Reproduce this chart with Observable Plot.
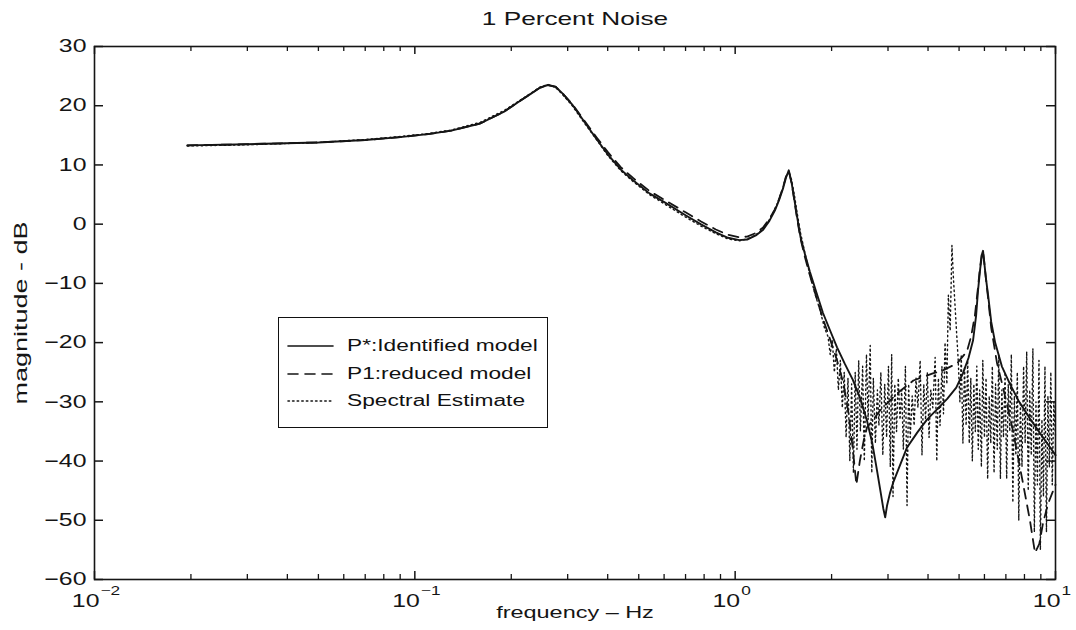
<!DOCTYPE html>
<html>
<head>
<meta charset="utf-8">
<script src="https://cdn.jsdelivr.net/npm/d3@7"></script>
<script src="https://cdn.jsdelivr.net/npm/@observablehq/plot@0.6"></script>
<style>
  body { margin: 0; background: #fff; }
  #wrap { position: relative; width: 1076px; height: 630px; font-family: "Liberation Sans", Arial, sans-serif; color: #111; }
  #legend { position: absolute; left: 278px; top: 317px; width: 270px; height: 111px; border: 1.5px solid #111; background: #fff; box-sizing: border-box; }
  .row { position: absolute; left: 0; height: 22px; width: 100%; }
  .row svg { position: absolute; left: 8px; top: 0; }
  .row span { position: absolute; left: 68px; top: 1px; font-size: 16px; line-height: 20px; transform: scaleX(1.42); transform-origin: left center; white-space: nowrap; }
</style>
</head>
<body>
<div id="wrap">
  <div id="chart"></div>
  <div id="legend"></div>
</div>
<script>
// ---- data (frequency in Hz, magnitude in dB) ----
const identified = [
  [0.0195,13.3],[0.03,13.5],[0.05,13.8],[0.07,14.2],[0.09,14.7],[0.11,15.2],[0.13,15.8],[0.16,17.0],
  [0.19,19.0],[0.21,20.6],[0.23,22.0],[0.245,23.0],[0.26,23.5],[0.275,23.2],[0.29,22.0],[0.31,20.2],
  [0.336,17.5],[0.37,14.3],[0.40,11.8],[0.44,9.2],[0.48,7.4],[0.54,5.2],[0.61,3.5],[0.70,1.5],
  [0.78,0.0],[0.87,-1.4],[0.95,-2.3],[1.03,-2.7],[1.09,-2.6],[1.16,-1.9],[1.22,-1.0],[1.28,0.6],
  [1.33,2.3],[1.37,4.0],[1.41,6.0],[1.44,7.8],[1.47,9.1],[1.50,7.0],[1.53,4.2],[1.56,1.3],
  [1.60,-2.2],[1.65,-5.0],[1.71,-8.0],[1.78,-11.0],[1.88,-15.0],[1.98,-18.0],[2.08,-20.8],[2.2,-23.6],
  [2.33,-26.3],[2.46,-29.5],[2.58,-33.2],[2.68,-37.0],[2.77,-41.5],[2.85,-45.5],[2.90,-48.0],[2.94,-49.5],
  [2.98,-47.5],[3.04,-45.5],[3.12,-43.5],[3.20,-42.0],[3.44,-37.7],[3.70,-35.2],[3.97,-33.0],[4.28,-31.2],
  [4.59,-29.5],[4.90,-27.6],[5.14,-25.2],[5.35,-22.6],[5.53,-19.6],[5.65,-15.5],[5.73,-11.2],[5.82,-7.5],
  [5.90,-5.0],[5.94,-4.5],[5.98,-6.0],[6.06,-9.0],[6.16,-12.0],[6.30,-16.5],[6.48,-20.0],[6.8,-24.0],
  [7.21,-27.0],[7.7,-30.0],[8.32,-32.8],[9.0,-35.5],[9.5,-37.3],[10.0,-39.0]
];
const reduced = [
  [0.0195,13.3],[0.03,13.5],[0.05,13.8],[0.07,14.2],[0.09,14.7],[0.11,15.2],[0.13,15.8],[0.16,17.0],
  [0.19,19.0],[0.21,20.6],[0.23,22.0],[0.245,23.0],[0.26,23.5],[0.275,23.2],[0.29,22.0],[0.31,20.3],
  [0.336,17.7],[0.37,14.6],[0.40,12.2],[0.44,9.6],[0.48,7.8],[0.54,5.6],[0.61,3.9],[0.70,2.0],
  [0.78,0.5],[0.87,-0.9],[0.95,-1.8],[1.03,-2.2],[1.09,-2.1],[1.16,-1.5],[1.22,-0.6],[1.28,0.9],
  [1.33,2.5],[1.37,4.2],[1.41,6.2],[1.44,8.0],[1.47,9.0],[1.50,7.0],[1.53,4.0],[1.56,1.0],
  [1.60,-2.5],[1.65,-5.5],[1.71,-8.6],[1.78,-11.8],[1.88,-16.0],[1.98,-19.5],[2.08,-23.0],[2.18,-27.0],
  [2.26,-32.0],[2.33,-38.0],[2.39,-44.0],[2.45,-40.0],[2.52,-36.5],[2.58,-34.3],[2.70,-33.0],[2.83,-31.5],
  [3.20,-28.6],[3.60,-26.4],[4.14,-25.2],[4.45,-24.7],[4.93,-23.5],[5.29,-21.5],[5.45,-19.0],[5.60,-15.5],
  [5.70,-11.8],[5.80,-7.8],[5.88,-5.2],[5.94,-4.6],[5.98,-6.0],[6.06,-9.0],[6.16,-12.5],[6.30,-17.5],
  [6.57,-23.5],[6.86,-27.6],[7.36,-34.8],[7.92,-43.8],[8.32,-50.0],[8.63,-55.5],[8.90,-54.0],[9.14,-50.5],
  [9.48,-47.2],[10.0,-44.0]
];
const spectral = [
  [0.0195,13.2],[0.03,13.4],[0.05,13.8],[0.07,14.3],[0.09,14.8],[0.11,15.3],[0.13,15.9],[0.16,17.2],
  [0.19,19.2],[0.21,20.7],[0.23,22.1],[0.245,23.1],[0.26,23.6],[0.275,23.1],[0.29,21.8],[0.31,20.0],
  [0.336,17.3],[0.37,14.2],[0.40,11.6],[0.44,9.0],[0.48,7.2],[0.54,5.0],[0.61,3.2],[0.70,1.2],
  [0.78,-0.3],[0.87,-1.6],[0.95,-2.5],[1.03,-2.8],[1.09,-2.5],[1.16,-1.8],[1.22,-0.8],[1.28,0.8],
  [1.33,2.5],[1.37,4.2],[1.41,6.2],[1.44,8.0],[1.47,8.8],[1.50,7.5],[1.53,5.0],[1.56,2.0],
  [1.60,-1.5],[1.65,-4.8],[1.71,-8.5],[1.78,-12.0],[1.84,-14.5],[1.90,-17.5],[1.95,-19.0],
  [1.98,-22],[2.01,-19.5],[2.04,-25],[2.07,-21],[2.10,-28],[2.13,-23],[2.16,-31],[2.19,-25],
  [2.22,-36],[2.25,-26],[2.28,-40],[2.31,-27],[2.34,-42],[2.37,-25],[2.40,-38],[2.43,-23],
  [2.46,-35],[2.50,-24],[2.53,-40],[2.57,-22],[2.60,-33],[2.64,-20.5],[2.67,-42],[2.70,-26],
  [2.74,-37],[2.78,-28],[2.81,-34],[2.85,-25],[2.89,-39],[2.93,-27],[2.97,-36],[3.01,-24],
  [3.05,-41],[3.08,-22],[3.11,-46],[3.15,-27],[3.19,-35],[3.23,-26],[3.27,-33],[3.31,-28],
  [3.35,-38],[3.40,-24],[3.44,-47.5],[3.48,-27],[3.52,-36],[3.57,-29],[3.62,-34],[3.67,-26],
  [3.72,-31],[3.78,-23],[3.83,-39],[3.88,-27],[3.93,-33],[3.98,-25],[4.03,-36],[4.08,-28],
  [4.14,-31],[4.21,-22.5],[4.26,-40],[4.31,-26],[4.36,-34],[4.42,-24],[4.47,-32],[4.52,-20],
  [4.58,-27],[4.63,-12],[4.69,-18],[4.75,-3.6],[4.80,-9],[4.86,-14],[4.92,-19],[4.97,-23],
  [5.03,-30],[5.08,-22],[5.14,-37],[5.20,-24],[5.26,-34],[5.32,-23],[5.38,-37],[5.44,-26],
  [5.50,-40],[5.56,-27],[5.62,-35],[5.68,-24],[5.74,-38],[5.80,-28],[5.87,-41],[5.93,-23],
  [6.00,-36],[6.07,-26],[6.14,-43],[6.21,-29],[6.28,-37],[6.35,-24],[6.43,-42],[6.50,-27],
  [6.58,-38],[6.65,-22],[6.73,-43],[6.80,-28],[6.88,-36],[6.96,-25],[7.04,-43],[7.12,-27],
  [7.20,-35],[7.28,-22],[7.36,-47],[7.44,-29],[7.52,-39],[7.60,-25],[7.68,-50],[7.77,-30],
  [7.86,-41],[7.95,-24],[8.04,-37],[8.13,-21.5],[8.22,-45],[8.31,-28],[8.40,-39],[8.50,-21],
  [8.59,-52],[8.69,-30],[8.78,-44],[8.88,-23],[8.97,-55],[9.07,-33],[9.17,-46],[9.27,-24],
  [9.37,-52],[9.47,-29],[9.57,-41],[9.67,-25],[9.77,-44],[9.88,-30],[10.0,-36]
];
const yTicks = [-60,-50,-40,-30,-20,-10,0,10,20,30];
const xDecades = [0.01, 0.1, 1, 10];
const xExponents = ["−2", "−1", "0", "1"];
const xMinor = [0.02,0.03,0.04,0.05,0.06,0.07,0.08,0.09,0.2,0.3,0.4,0.5,0.6,0.7,0.8,0.9,2,3,4,5,6,7,8,9];
const legendLabels = ["P*:Identified model", "P1:reduced model", "Spectral Estimate"];
const titleText = "1 Percent Noise";
const xLabel = "frequency – Hz";
const yLabel = "magnitude - dB";

const toRows = (arr) => arr.map(([f, db]) => ({f, db}));

const W = 1076, H = 630, mL = 94, mR = 21, mT = 46, mB = 51;
const frameW = W - mL - mR, frameH = H - mT - mB;
const ink = "#151515";

const chart = Plot.plot({
  width: W, height: H,
  marginLeft: mL, marginRight: mR, marginTop: mT, marginBottom: mB,
  x: {type: "log", domain: [0.01, 10], axis: null},
  y: {domain: [-60, 30], axis: null},
  style: {fontFamily: "'Liberation Sans', Arial, sans-serif", fontSize: "17px", color: ink, background: "#fff", overflow: "visible"},
  marks: [
    Plot.line(toRows(spectral), {x: "f", y: "db", stroke: ink, strokeWidth: 1.4, strokeDasharray: "1.4,3.2", strokeLinecap: "round"}),
    Plot.line(toRows(reduced), {x: "f", y: "db", stroke: ink, strokeWidth: 1.8, strokeDasharray: "10,7"}),
    Plot.line(toRows(identified), {x: "f", y: "db", stroke: ink, strokeWidth: 1.9}),
    Plot.frame({stroke: ink, strokeWidth: 1.6}),
    // inward ticks
    Plot.tickX(xDecades, {x: d => d, stroke: ink, strokeWidth: 1.5, insetTop: frameH - 8}),
    Plot.tickX(xDecades, {x: d => d, stroke: ink, strokeWidth: 1.5, insetBottom: frameH - 8}),
    Plot.tickX(xMinor, {x: d => d, stroke: ink, strokeWidth: 1.3, insetTop: frameH - 5}),
    Plot.tickX(xMinor, {x: d => d, stroke: ink, strokeWidth: 1.3, insetBottom: frameH - 5}),
    Plot.tickY(yTicks, {y: d => d, stroke: ink, strokeWidth: 1.5, insetRight: frameW - 9}),
    Plot.tickY(yTicks, {y: d => d, stroke: ink, strokeWidth: 1.5, insetLeft: frameW - 9}),
    // y tick labels
    Plot.text(yTicks, {y: d => d, text: d => (d < 0 ? "−" + Math.abs(d) : String(d)), frameAnchor: "left", textAnchor: "end", lineAnchor: "middle", dx: -8, fill: ink, fontSize: 18}),
    // x tick labels: "10" with superscript exponent
    Plot.text(xDecades, {x: d => d, text: () => "10", frameAnchor: "bottom", textAnchor: "end", lineAnchor: "middle", dx: 5, dy: 22, fill: ink, fontSize: 18}),
    Plot.text(xDecades, {x: d => d, text: (d, i) => xExponents[i], frameAnchor: "bottom", textAnchor: "start", lineAnchor: "middle", dx: 6, dy: 11, fill: ink, fontSize: 12.5}),
    // axis labels and title
    Plot.text([xLabel], {frameAnchor: "bottom", textAnchor: "middle", lineAnchor: "middle", dy: 33, fill: ink, fontSize: 17}),
    Plot.text([yLabel], {frameAnchor: "left", textAnchor: "middle", lineAnchor: "middle", dx: -73, rotate: -90, fill: ink, fontSize: 18}),
    Plot.text([titleText], {frameAnchor: "top", textAnchor: "middle", lineAnchor: "middle", dy: -28, fill: ink, fontSize: 19})
  ]
});

// horizontal stretch of the scanned lettering (scale around each text's anchor)
chart.querySelectorAll("text").forEach(el => {
  const x = +el.getAttribute("x") || 0, y = +el.getAttribute("y") || 0;
  const t = el.getAttribute("transform") || "";
  const rotated = /rotate/.test(t);
  const s = rotated ? 1.5 : 1.38;
  el.setAttribute("transform", `${t} translate(${x},${y}) scale(${s},1) translate(${-x},${-y})`);
});
document.getElementById("chart").appendChild(chart);

// legend
const legend = document.getElementById("legend");
const dashes = [null, "10,7", "1.4,3.2"];
const rowTops = [17, 45, 72];
legendLabels.forEach((label, i) => {
  const row = document.createElement("div");
  row.className = "row";
  row.style.top = rowTops[i] + "px";
  row.innerHTML = `<svg width="50" height="22"><line x1="1" x2="46" y1="11" y2="11" stroke="${ink}" stroke-width="1.6" stroke-linecap="round" ${dashes[i] ? `stroke-dasharray="${dashes[i]}"` : ""}/></svg><span>${label}</span>`;
  legend.appendChild(row);
});
</script>
</body>
</html>
